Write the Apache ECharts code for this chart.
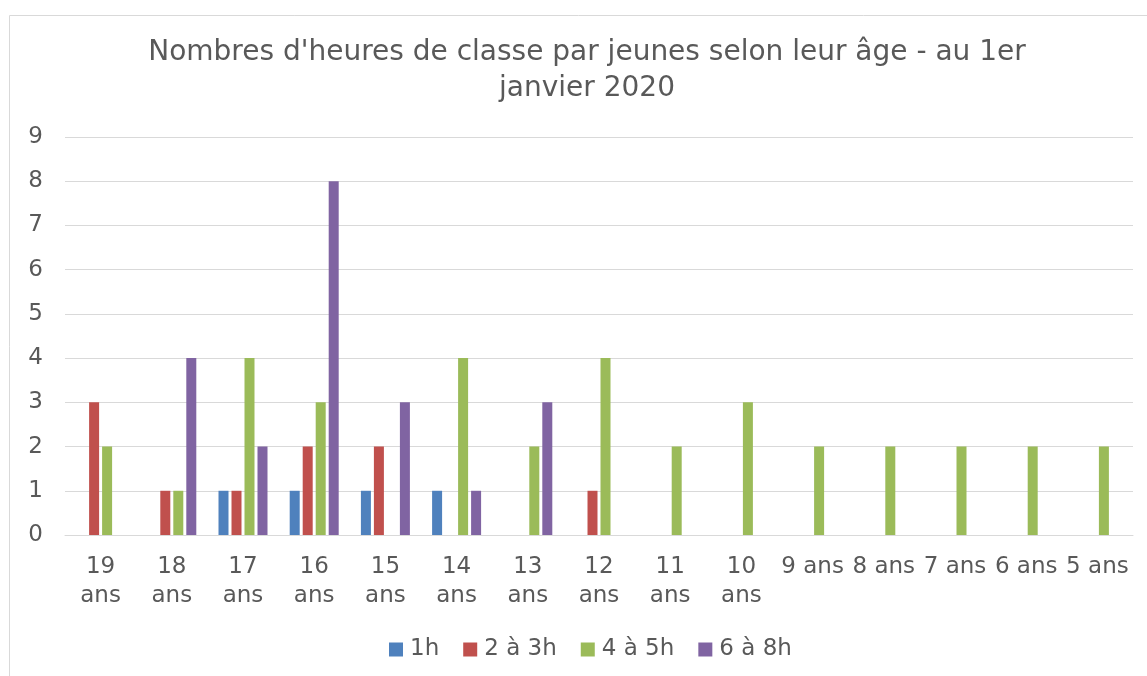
<!DOCTYPE html>
<html>
<head>
<meta charset="utf-8">
<script src="https://cdn.jsdelivr.net/npm/echarts@6/dist/echarts.min.js"></script>
<style>
  html, body { margin: 0; padding: 0; background: #fff; }
  #chart { width: 1147px; height: 676px; }
</style>
</head>
<body>
<div id="chart"></div>
<script>
// categories (age) and counts per class-hour bracket
const ages = ['19 ans', '18 ans', '17 ans', '16 ans', '15 ans', '14 ans', '13 ans', '12 ans',
  '11 ans', '10 ans', '9 ans', '8 ans', '7 ans', '6 ans', '5 ans']
const h1 = [0, 0, 1, 1, 1, 1, 0, 0, 0, 0, 0, 0, 0, 0, 0]
const h2to3 = [3, 1, 1, 2, 2, 0, 0, 1, 0, 0, 0, 0, 0, 0, 0]
const h4to5 = [2, 1, 4, 3, 0, 4, 2, 4, 2, 3, 2, 2, 2, 2, 2]
const h6to8 = [0, 4, 2, 8, 3, 1, 3, 0, 0, 0, 0, 0, 0, 0, 0]
const yTicks = [0, 1, 2, 3, 4, 5, 6, 7, 8, 9]

const FONT = 'DejaVu Sans, Verdana, sans-serif'
const TXT = '#595959'
const GRID = '#d9d9d9'

const chart = echarts.init(document.getElementById('chart'))

const mkBar = (name, color, data) => ({
  name,
  type: 'bar',
  data,
  barWidth: 10,
  barGap: '30%',
  itemStyle: { color },
})

chart.setOption({
  animation: false,
  textStyle: { fontFamily: FONT },
  graphic: [{
    type: 'rect',
    shape: { x: 9.5, y: 15.5, width: 1160, height: 700 },
    style: { fill: 'none', stroke: GRID, lineWidth: 1 },
    silent: true,
  }],
  title: {
    text: "Nombres d'heures de classe par jeunes selon leur âge - au 1er\njanvier 2020",
    left: 582,
    top: 30,
    textAlign: 'center',
    textStyle: { color: TXT, fontSize: 28, fontWeight: 'normal', fontFamily: FONT, lineHeight: 36 },
  },
  legend: {
    left: 384,
    top: 633,
    itemWidth: 14,
    itemHeight: 14,
    itemGap: 24,
    icon: 'rect',
    textStyle: { color: TXT, fontSize: 23, fontFamily: FONT, padding: [0, 0, 0, 2] },
  },
  grid: { left: 65, right: 14, top: 137, bottom: 141, containLabel: false },
  xAxis: {
    type: 'category',
    data: ages,
    axisLine: { lineStyle: { color: GRID } },
    axisTick: { show: false },
    axisLabel: {
      color: TXT,
      fontSize: 23,
      fontFamily: FONT,
      margin: 18,
      lineHeight: 29,
      interval: 0,
      formatter: v => (v.length > 5 ? v.replace(' ', '\n') : v),
    },
  },
  yAxis: {
    type: 'value',
    min: yTicks[0],
    max: yTicks[yTicks.length - 1],
    interval: 1,
    axisLine: { show: false },
    axisTick: { show: false },
    axisLabel: { color: TXT, fontSize: 23, fontFamily: FONT, margin: 22 },
    splitLine: { lineStyle: { color: GRID, width: 1 } },
  },
  series: [
    mkBar('1h', '#4f81bd', h1),
    mkBar('2 à 3h', '#c0504d', h2to3),
    mkBar('4 à 5h', '#9bbb59', h4to5),
    mkBar('6 à 8h', '#8064a2', h6to8),
  ],
})
</script>
</body>
</html>
